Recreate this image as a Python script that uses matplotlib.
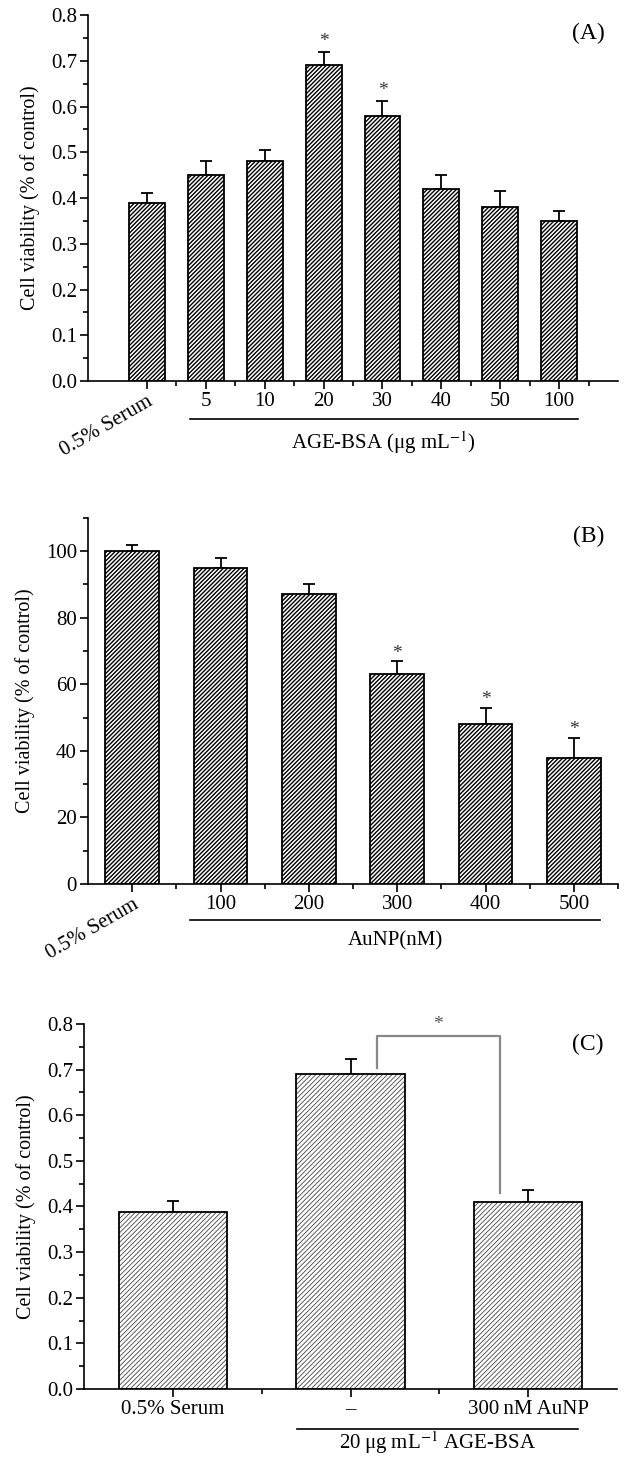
import matplotlib
matplotlib.use('Agg')
import matplotlib.pyplot as plt
import numpy as np

plt.rcParams['font.family'] = ['Liberation Serif', 'DejaVu Serif']
plt.rcParams['mathtext.fontset'] = 'stix'
plt.rcParams['axes.linewidth'] = 1.2

# panel A: AGE-BSA dose
a_labels = ['0.5% Serum', '5', '10', '20', '30', '40', '50', '100']
a_values = [0.39, 0.45, 0.48, 0.69, 0.58, 0.42, 0.38, 0.35]
a_errors = [0.021, 0.03, 0.026, 0.029, 0.032, 0.031, 0.035, 0.021]
a_sig = [False, False, False, True, True, False, False, False]

# panel B: AuNP dose
b_labels = ['0.5% Serum', '100', '200', '300', '400', '500']
b_values = [100, 95, 87, 63, 48, 38]
b_errors = [2, 3, 3, 4, 5, 6]
b_sig = [False, False, False, True, True, True]

# panel C: AGE-BSA with / without AuNP
c_labels = ['0.5% Serum', '\u2013', '300\u2009nM AuNP']
c_values = [0.388, 0.69, 0.41]
c_errors = [0.023, 0.033, 0.027]

fig = plt.figure(figsize=(6.27, 14.61), dpi=100)
axA = fig.add_axes([0.1404, 0.7392, 0.8453, 0.2505])
axB = fig.add_axes([0.1404, 0.3949, 0.8453, 0.2506])
axC = fig.add_axes([0.1340, 0.0493, 0.8501, 0.2498])

TICK_FS = 15
LAB_FS = 14.5


def style(ax):
    for s in ['top', 'right']:
        ax.spines[s].set_visible(False)
    ax.tick_params(which='major', direction='out', length=6, width=1.2, labelsize=TICK_FS, pad=2)
    ax.tick_params(which='minor', direction='out', length=3.5, width=1.2)
    ax.set_ylabel('Cell viability (% of control)', fontsize=LAB_FS, labelpad=8)


def bars(ax, vals, errs, hatch, hatch_col, hatch_lw):
    x = np.arange(1, len(vals) + 1)
    with plt.rc_context({'hatch.linewidth': hatch_lw}):
        ax.bar(x, vals, width=0.61, color='white', edgecolor=hatch_col,
               hatch=hatch, linewidth=0, zorder=2)
    ax.bar(x, vals, width=0.61, color='none', edgecolor='black',
           linewidth=1.3, zorder=3)
    ax.errorbar(x, vals, yerr=[np.zeros(len(vals)), errs], fmt='none',
                ecolor='black', elinewidth=1.3, capsize=4, capthick=1.3, zorder=1)
    return x


# ---- A ----
x = bars(axA, a_values, a_errors, '////////', 'black', 1.0)
style(axA)
axA.set_xlim(0, 9)
axA.set_ylim(0, 0.8)
axA.set_yticks(np.arange(0, 0.81, 0.1))
axA.set_yticks(np.arange(0.05, 0.8, 0.1), minor=True)
axA.set_xticks(x)
axA.set_xticks(np.arange(0.5, 9.1, 1.0)[1:], minor=True)
axA.set_xticklabels(a_labels)
lab = axA.get_xticklabels()[0]
lab.set_rotation(30)
lab.set_ha('right')
lab.set_rotation_mode('anchor')
axA.yaxis.set_major_formatter(matplotlib.ticker.FormatStrFormatter('%.1f'))
for xi, v, e, s in zip(x, a_values, a_errors, a_sig):
    if s:
        axA.text(xi, v + e + 0.024, '*', ha='center', va='center', fontsize=14, color='#333333')
axA.plot([1.73, 8.32], [-0.104, -0.104], color='black', lw=1.2,
         transform=axA.get_xaxis_transform(), clip_on=False)
axA.text(5.02, -0.168, 'AGE-BSA (\u03bcg mL$^{-1}$)', ha='center', va='center',
         fontsize=TICK_FS, transform=axA.get_xaxis_transform())
axA.text(0.975, 0.95, '(A)', ha='right', va='center', fontsize=17, transform=axA.transAxes)

# ---- B ----
x = bars(axB, b_values, b_errors, '////////', 'black', 1.0)
style(axB)
axB.set_xlim(0.5, 6.5)
axB.set_ylim(0, 110)
axB.set_yticks(np.arange(0, 101, 20))
axB.set_yticks(np.arange(10, 111, 20), minor=True)
axB.set_xticks(x)
axB.set_xticks(np.arange(1.5, 6.6, 1.0), minor=True)
axB.set_xticklabels(b_labels)
lab = axB.get_xticklabels()[0]
lab.set_rotation(30)
lab.set_ha('right')
lab.set_rotation_mode('anchor')
for xi, v, e, s in zip(x, b_values, b_errors, b_sig):
    if s:
        axB.text(xi, v + e + 2.4, '*', ha='center', va='center', fontsize=14, color='#333333')
axB.plot([1.66, 6.30], [-0.098, -0.098], color='black', lw=1.2,
         transform=axB.get_xaxis_transform(), clip_on=False)
axB.text(3.98, -0.155, 'AuNP(nM)', ha='center', va='center',
         fontsize=TICK_FS, transform=axB.get_xaxis_transform())
axB.text(0.975, 0.95, '(B)', ha='right', va='center', fontsize=17, transform=axB.transAxes)

# ---- C ----
x = bars(axC, c_values, c_errors, '///////', '#444444', 0.6)
style(axC)
axC.set_xlim(0.5, 3.5)
axC.set_ylim(0, 0.8)
axC.set_yticks(np.arange(0, 0.81, 0.1))
axC.set_yticks(np.arange(0.05, 0.8, 0.1), minor=True)
axC.yaxis.set_major_formatter(matplotlib.ticker.FormatStrFormatter('%.1f'))
axC.set_xticks(x)
axC.set_xticks([1.5, 2.5], minor=True)
axC.set_xticklabels(c_labels)
axC.plot([2.15, 2.15, 2.84, 2.84], [0.703, 0.773, 0.773, 0.429], color='#888888', lw=1.6, zorder=4)
axC.text(2.49, 0.80, '*', ha='center', va='center', fontsize=14, color='#555555', clip_on=False)
axC.plot([1.70, 3.28], [-0.11, -0.11], color='black', lw=1.2,
         transform=axC.get_xaxis_transform(), clip_on=False)
axC.text(2.49, -0.148, '20\u2009\u03bcg mL$^{-1}$ AGE-BSA', ha='center', va='center',
         fontsize=TICK_FS, transform=axC.get_xaxis_transform())
axC.text(0.975, 0.945, '(C)', ha='right', va='center', fontsize=17, transform=axC.transAxes)

fig.savefig('out.png', dpi=100)
